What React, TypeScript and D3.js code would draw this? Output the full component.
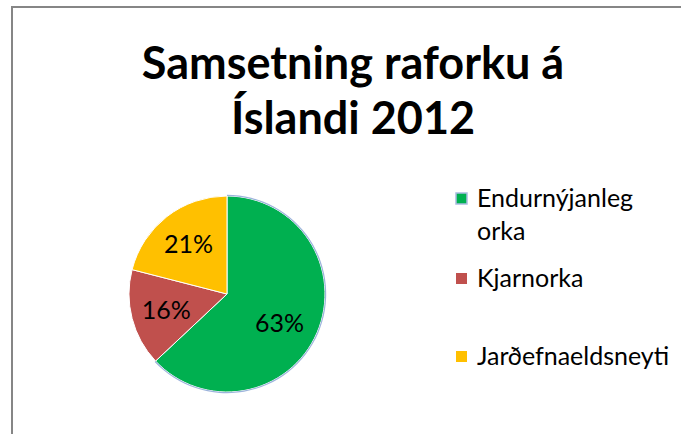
import * as d3 from "d3";
import { useEffect, useRef } from "react";

const titleLines = ["Samsetning raforku á", "Íslandi 2012"];
const categories = ["Endurnýjanleg orka", "Kjarnorka", "Jarðefnaeldsneyti"];
const legendLines = [["Endurnýjanleg", "orka"], ["Kjarnorka"], ["Jarðefnaeldsneyti"]];
const shares = [63, 16, 21];
const colors = ["#00B050", "#C0504D", "#FFC000"];

type Slice = { name: string; value: number; color: string };

export default function App() {
  const svgRef = useRef<SVGSVGElement | null>(null);

  useEffect(() => {
    const svg = d3.select(svgRef.current);
    const width = 681;
    const height = 434;
    const cx = 227;
    const cy = 294;
    const radius = 98;
    const font = "Lato, 'Open Sans', sans-serif";

    svg.selectAll("*").remove();
    svg.attr("width", width).attr("height", height);

    svg.append("rect").attr("width", width).attr("height", height).attr("fill", "#fff");

    // chart area border (runs off the right and bottom edges)
    svg
      .append("rect")
      .attr("x", 12)
      .attr("y", 7)
      .attr("width", width + 20)
      .attr("height", height + 20)
      .attr("fill", "#fff")
      .attr("stroke", "#868686")
      .attr("stroke-width", 2);

    svg
      .append("g")
      .selectAll("text")
      .data(titleLines)
      .enter()
      .append("text")
      .attr("x", 353)
      .attr("y", (_, i) => 79 + i * 55)
      .attr("text-anchor", "middle")
      .attr("font-family", font)
      .attr("font-weight", "bold")
      .attr("font-size", "45px")
      .attr("fill", "#000")
      .text((d) => d);

    const data: Slice[] = categories.map((name, i) => ({
      name,
      value: shares[i],
      color: colors[i],
    }));

    const pie = d3
      .pie<Slice>()
      .value((d) => d.value)
      .sort(null);
    const arcs = pie(data);

    const arc = d3.arc<d3.PieArcDatum<Slice>>().innerRadius(0).outerRadius(radius);
    const labelArc = d3
      .arc<d3.PieArcDatum<Slice>>()
      .innerRadius(radius * 0.64)
      .outerRadius(radius * 0.64);

    const g = svg.append("g").attr("transform", `translate(${cx},${cy})`);

    g.selectAll(".slice")
      .data(arcs)
      .enter()
      .append("path")
      .attr("class", "slice")
      .attr("d", arc)
      .attr("fill", (d) => d.data.color)
      .attr("stroke", "#fff")
      .attr("stroke-width", 1);

    // light blue outline on the first slice's rim
    const rim = d3
      .arc<d3.PieArcDatum<Slice>>()
      .innerRadius(radius)
      .outerRadius(radius + 1.2);
    g.append("path").attr("d", rim(arcs[0])).attr("fill", "#9DB4DC");

    g.selectAll(".slice-label")
      .data(arcs)
      .enter()
      .append("text")
      .attr("class", "slice-label")
      .attr("transform", (d, i) => {
        const [x, y] = labelArc.centroid(d);
        // first label sits a little left/lower in the original
        return i === 0 ? `translate(${x - 5},${y + 4})` : `translate(${x},${y})`;
      })
      .attr("text-anchor", "middle")
      .attr("dy", "0.36em")
      .attr("font-family", font)
      .attr("font-size", "25px")
      .attr("fill", "#000")
      .text((d) => `${d.data.value}%`);

    const legendY = [199, 279, 357];
    const legend = svg
      .append("g")
      .selectAll("g")
      .data(data)
      .enter()
      .append("g")
      .attr("transform", (_, i) => `translate(456,${legendY[i]})`);

    legend
      .append("rect")
      .attr("x", 0)
      .attr("y", -6)
      .attr("width", 11)
      .attr("height", 11)
      .attr("fill", (d) => d.color)
      .attr("stroke", (_, i) => (i === 0 ? "#A9BCE0" : "none"))
      .attr("stroke-width", 1.5);

    legend
      .append("text")
      .attr("font-family", font)
      .attr("font-size", "25px")
      .attr("fill", "#000")
      .selectAll("tspan")
      .data((_, i) => legendLines[i])
      .enter()
      .append("tspan")
      .attr("x", 21)
      .attr("y", (_, j) => 8 + j * 33)
      .text((d) => d);
  }, []);

  return <svg ref={svgRef} style={{ position: "absolute", left: 0, top: 0 }}></svg>;
}
